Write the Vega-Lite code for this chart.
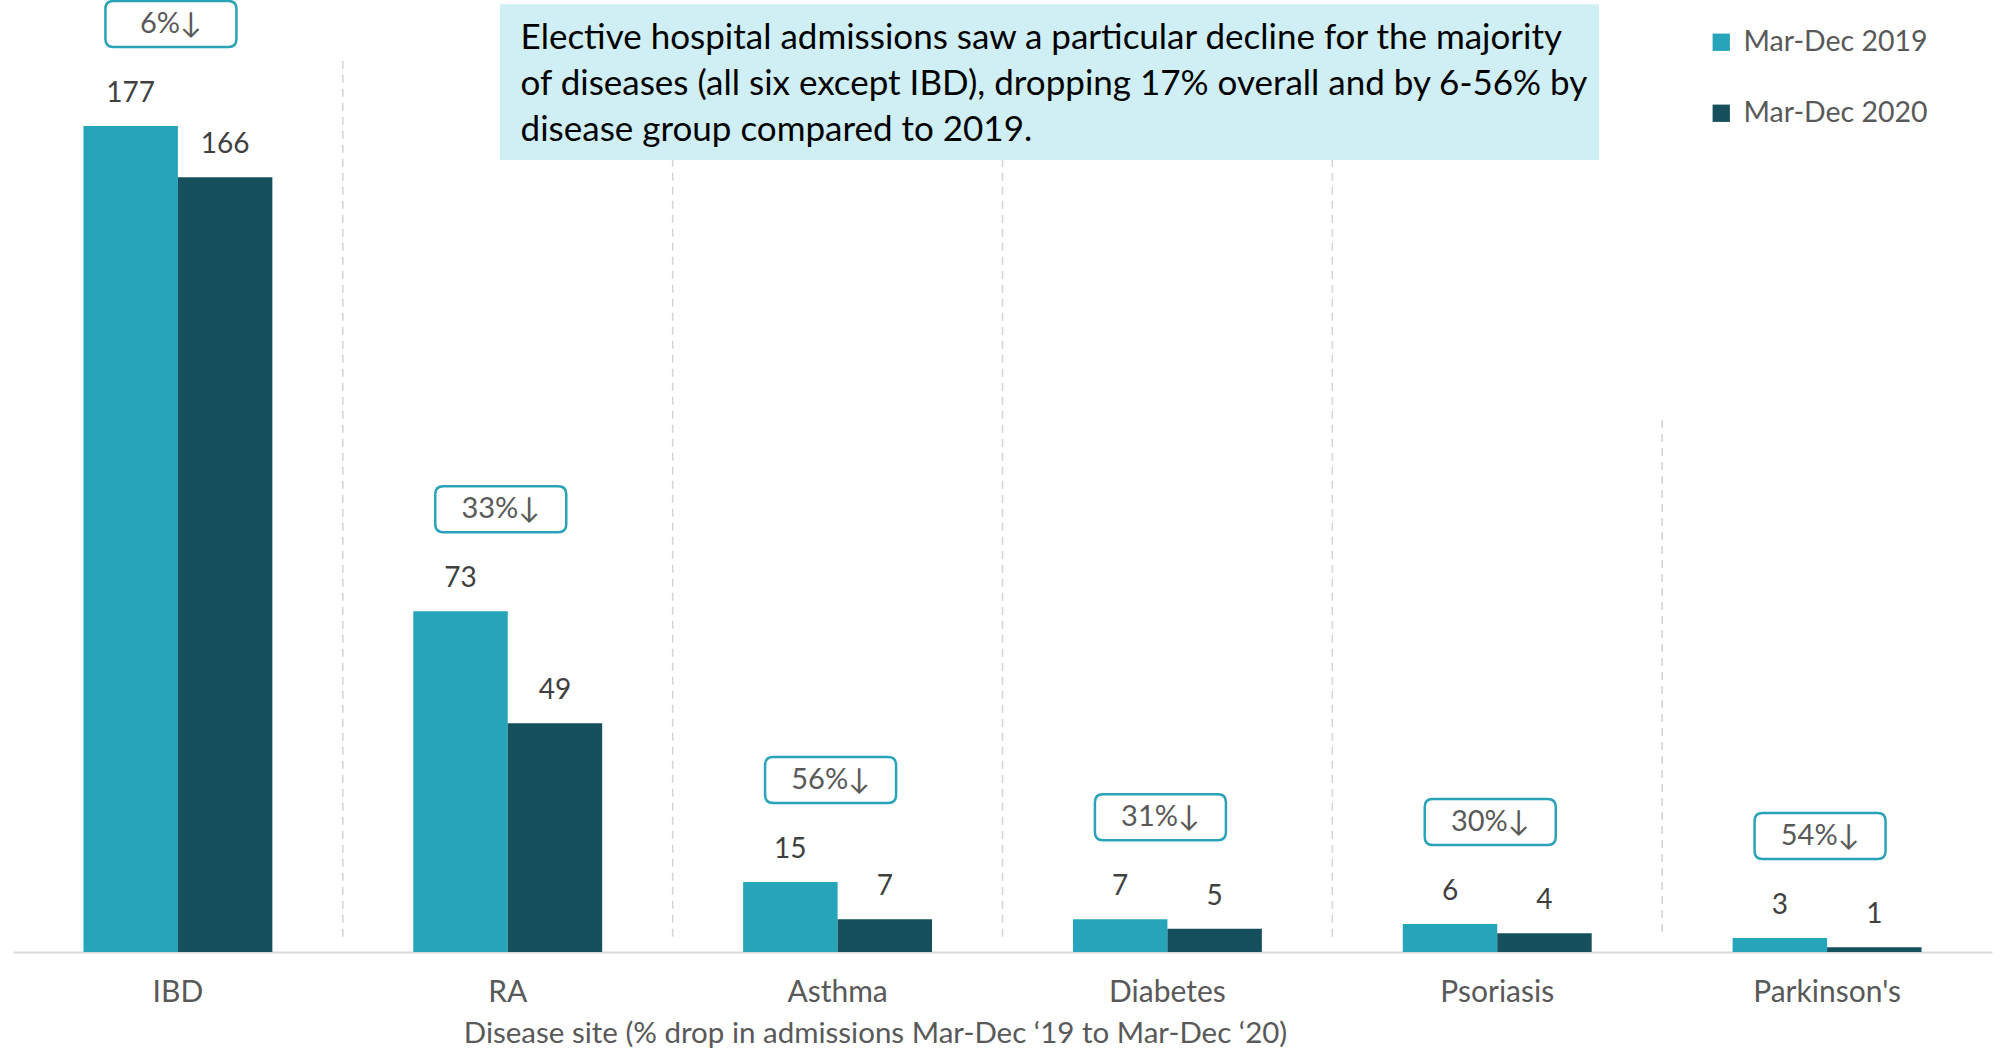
{
  "$schema": "https://vega.github.io/schema/vega-lite/v6.json",
  "width": 1979,
  "height": 952,
  "autosize": {"type": "none"},
  "padding": {"left": 13, "top": 0, "right": 10, "bottom": 99},
  "background": "white",
  "config": {"view": {"stroke": null}, "font": "Lato"},
  "datasets": {
    "diseases": [
      {"disease": "IBD", "Mar-Dec 2019": 177, "Mar-Dec 2020": 166, "label": "6%↓"},
      {"disease": "RA", "Mar-Dec 2019": 73, "Mar-Dec 2020": 49, "label": "33%↓"},
      {"disease": "Asthma", "Mar-Dec 2019": 15, "Mar-Dec 2020": 7, "label": "56%↓"},
      {"disease": "Diabetes", "Mar-Dec 2019": 7, "Mar-Dec 2020": 5, "label": "31%↓"},
      {"disease": "Psoriasis", "Mar-Dec 2019": 6, "Mar-Dec 2020": 4, "label": "30%↓"},
      {"disease": "Parkinson's", "Mar-Dec 2019": 3, "Mar-Dec 2020": 1, "label": "54%↓"}
    ]
  },
  "layer": [
    {
      "data": {"name": "diseases"},
      "transform": [{"fold": ["Mar-Dec 2019", "Mar-Dec 2020"], "as": ["period", "admissions"]}],
      "layer": [
        {
          "mark": {"type": "bar"},
          "encoding": {
            "x": {
              "field": "disease",
              "type": "nominal",
              "scale": {"domain": ["IBD", "RA", "Asthma", "Diabetes", "Psoriasis", "Parkinson's"], "paddingInner": 0, "paddingOuter": 0},
              "axis": {
                "title": "Disease site (% drop in admissions Mar-Dec ‘19 to Mar-Dec ‘20)",
                "bandPosition": 0.5,
                "labelAlign": "center",
                "labelAngle": 0,
                "ticks": false,
                "grid": false,
                "domainColor": "#d9d9d9",
                "domainWidth": 2,
                "labelFontSize": 30,
                "labelColor": "#595959",
                "labelPadding": 25,
                "labelLimit": 0,
                "titleFontSize": 29.5,
                "titleFontWeight": "normal",
                "titleColor": "#595959",
                "titlePadding": 12,
                "titleX": 862
              }
            },
            "xOffset": {
              "field": "period",
              "type": "nominal",
              "scale": {"domain": ["Mar-Dec 2019", "Mar-Dec 2020"], "paddingInner": 0, "paddingOuter": 0.746}
            },
            "y": {
              "field": "admissions",
              "type": "quantitative",
              "scale": {"domain": [0, 204], "nice": false},
              "axis": null
            },
            "color": {
              "field": "period",
              "type": "nominal",
              "scale": {"domain": ["Mar-Dec 2019", "Mar-Dec 2020"], "range": ["#26a4b9", "#16505c"]},
              "legend": {
                "title": null,
                "orient": "none",
                "legendX": 1694,
                "legendY": 28,
                "symbolType": "square",
                "symbolSize": 300,
                "labelFontSize": 28.5,
                "labelColor": "#595959",
                "labelOffset": 8,
                "labelLimit": 0,
                "rowPadding": 42,
                "padding": 0
              }
            }
          }
        },
        {
          "mark": {"type": "text", "baseline": "middle", "dy": -32, "fontSize": 28, "color": "#404040"},
          "encoding": {
            "x": {"field": "disease", "type": "nominal"},
            "xOffset": {"field": "period", "type": "nominal"},
            "y": {"field": "admissions", "type": "quantitative"},
            "text": {"field": "admissions", "type": "quantitative"}
          }
        }
      ]
    },
    {
      "data": {"name": "diseases"},
      "transform": [{"filter": {"field": "disease", "oneOf": ["RA", "Asthma", "Diabetes", "Psoriasis"]}}],
      "mark": {"type": "rule", "color": "#d4d4d4", "strokeWidth": 1.5, "strokeDash": [8, 6]},
      "encoding": {
        "x": {"field": "disease", "type": "nominal", "bandPosition": 0},
        "y": {"datum": 191, "type": "quantitative"},
        "y2": {"datum": 3}
      }
    },
    {
      "data": {"name": "diseases"},
      "transform": [{"filter": {"field": "disease", "equal": "Parkinson's"}}],
      "mark": {"type": "rule", "color": "#d4d4d4", "strokeWidth": 1.5, "strokeDash": [8, 6]},
      "encoding": {
        "x": {"field": "disease", "type": "nominal", "bandPosition": 0},
        "y": {"datum": 114, "type": "quantitative"},
        "y2": {"datum": 3}
      }
    },
    {
      "data": {"name": "diseases"},
      "mark": {
        "type": "point",
        "shape": "M -0.878 -0.351 L 0.878 -0.351 Q 1 -0.351 1 -0.229 L 1 0.229 Q 1 0.351 0.878 0.351 L -0.878 0.351 Q -1 0.351 -1 0.229 L -1 -0.229 Q -1 -0.351 -0.878 -0.351 Z",
        "size": 17161,
        "filled": true,
        "fill": "white",
        "stroke": "#2aa3b8",
        "strokeWidth": 2.5,
        "opacity": 1,
        "xOffset": -7,
        "yOffset": -102
      },
      "encoding": {
        "x": {"field": "disease", "type": "nominal"},
        "y": {"field": "Mar-Dec 2019", "type": "quantitative"}
      }
    },
    {
      "data": {"name": "diseases"},
      "mark": {"type": "text", "baseline": "middle", "fontSize": 29, "color": "#595959", "xOffset": -7, "yOffset": -102},
      "encoding": {
        "x": {"field": "disease", "type": "nominal"},
        "y": {"field": "Mar-Dec 2019", "type": "quantitative"},
        "text": {"field": "label", "type": "nominal"}
      }
    },
    {
      "data": {"values": [{"first": "RA", "last": "Psoriasis"}]},
      "mark": {"type": "rect", "color": "#cfeff4"},
      "encoding": {
        "x": {"field": "first", "type": "nominal", "bandPosition": 0.476},
        "x2": {"field": "last", "bandPosition": 0.809},
        "y": {"datum": 203.1, "type": "quantitative"},
        "y2": {"datum": 169.7}
      }
    },
    {
      "data": {"values": [{"first": "RA"}]},
      "mark": {
        "type": "text",
        "align": "left",
        "baseline": "middle",
        "fontSize": 35,
        "lineHeight": 46,
        "color": "#000000",
        "text": [
          "Elective hospital admissions saw a particular decline for the majority",
          "of diseases (all six except IBD), dropping 17% overall and by 6-56% by",
          "disease group compared to 2019."
        ]
      },
      "encoding": {
        "x": {"field": "first", "type": "nominal", "bandPosition": 0.539},
        "y": {"datum": 195.8, "type": "quantitative"}
      }
    }
  ]
}
